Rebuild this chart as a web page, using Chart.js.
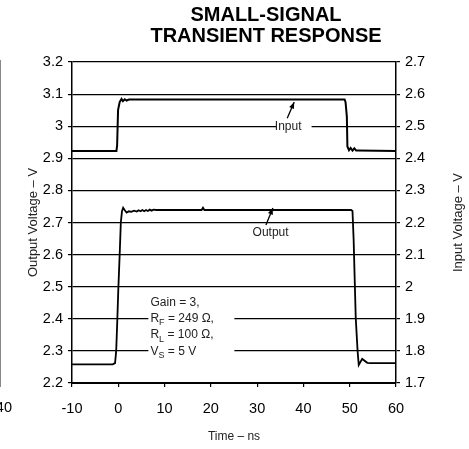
<!DOCTYPE html>
<html>
<head>
<meta charset="utf-8">
<script src="https://cdn.jsdelivr.net/npm/chart.js@4/dist/chart.umd.min.js"></script>
<style>
  html, body { margin: 0; padding: 0; background: #fff; }
</style>
</head>
<body>
<canvas id="transientChart" width="469" height="449"></canvas>
<script>
const FONT = '"Liberation Sans", Arial, sans-serif';

// axis ticks
const timeTicks = [-10, 0, 10, 20, 30, 40, 50, 60];
const outputTicks = [2.2, 2.3, 2.4, 2.5, 2.6, 2.7, 2.8, 2.9, 3, 3.1, 3.2];
const inputTicks = [1.7, 1.8, 1.9, 2, 2.1, 2.2, 2.3, 2.4, 2.5, 2.6, 2.7];

// input trace (right axis), ns / V
const inputTime = [-10, -0.4, -0.25, -0.05, 0.3, 0.7, 1.0, 1.4, 1.8, 2.3, 48.9, 49.1, 49.38, 49.5, 49.85, 50.2, 50.6, 51.0, 51.4, 51.8, 60];
const inputVolt = [2.423, 2.423, 2.44, 2.55, 2.575, 2.585, 2.578, 2.584, 2.58, 2.583, 2.583, 2.575, 2.53, 2.437, 2.425, 2.432, 2.424, 2.431, 2.424, 2.424, 2.423];

// output trace (left axis), ns / V
const outputTime = [-10, -1.2, -0.7, -0.45, -0.2, 0.0, 0.3, 0.55, 0.8, 1.05, 1.4, 1.8, 2.3, 2.8, 3.4, 4.0, 4.4, 4.8, 5.2, 5.6, 6.0, 6.4, 6.8, 7.2, 7.6, 8.2, 18.0, 18.3, 18.6, 50.3, 50.6, 50.85, 51.3, 51.7, 51.95, 52.7, 53.8, 54.6, 60];
const outputVolt = [2.258, 2.258, 2.262, 2.3, 2.4, 2.49, 2.6, 2.7, 2.735, 2.746, 2.738, 2.731, 2.735, 2.733, 2.737, 2.734, 2.738, 2.735, 2.739, 2.735, 2.739, 2.736, 2.74, 2.737, 2.74, 2.739, 2.739, 2.746, 2.739, 2.739, 2.736, 2.645, 2.403, 2.3, 2.256, 2.275, 2.263, 2.262, 2.262];

function toPoints(xs, ys) {
  return xs.map((t, i) => ({ x: t, y: ys[i] }));
}

function arrow(ctx, x0, y0, x1, y1) {
  ctx.beginPath();
  ctx.moveTo(x0, y0);
  ctx.lineTo(x1, y1);
  ctx.stroke();
  const a = Math.atan2(y1 - y0, x1 - x0);
  ctx.beginPath();
  ctx.moveTo(x1, y1);
  ctx.lineTo(x1 - 7 * Math.cos(a - 0.38), y1 - 7 * Math.sin(a - 0.38));
  ctx.lineTo(x1 - 7 * Math.cos(a + 0.38), y1 - 7 * Math.sin(a + 0.38));
  ctx.closePath();
  ctx.fill();
}

function subText(ctx, x, y, main, sub, rest) {
  ctx.font = "12px " + FONT;
  ctx.fillText(main, x, y);
  x += ctx.measureText(main).width;
  if (sub) {
    ctx.font = "9px " + FONT;
    ctx.fillText(sub, x, y + 4);
    x += ctx.measureText(sub).width;
    ctx.font = "12px " + FONT;
  }
  ctx.fillText(rest, x, y);
}

const notes = {
  id: "notes",
  beforeDatasetsDraw(chart) {
    const { ctx } = chart;
    const sx = chart.scales.x, sy = chart.scales.y;
    ctx.save();
    ctx.fillStyle = "#fff";
    // white boxes breaking the gridlines behind the labels
    ctx.fillRect(sx.getPixelForValue(34.2), sy.getPixelForValue(3.0) - 7, 35, 14);
    ctx.fillRect(sx.getPixelForValue(6.5), sy.getPixelForValue(2.485), 86, 68);
    ctx.restore();
  },
  afterDatasetsDraw(chart) {
    const { ctx } = chart;
    const sx = chart.scales.x, sy = chart.scales.y;
    ctx.save();
    ctx.fillStyle = "#000";
    ctx.strokeStyle = "#000";
    ctx.lineWidth = 1.3;

    // title
    ctx.font = "bold 20px " + FONT;
    ctx.textAlign = "center";
    ctx.textBaseline = "middle";
    ctx.fillText("SMALL-SIGNAL", 266, 15);
    ctx.fillText("TRANSIENT RESPONSE", 266, 36);

    // trace labels
    ctx.font = "12px " + FONT;
    ctx.fillStyle = "#222";
    ctx.fillText("Input", sx.getPixelForValue(36.7), sy.getPixelForValue(3.0));
    ctx.fillText("Output", sx.getPixelForValue(32.9), sy.getPixelForValue(2.667));
    ctx.fillStyle = "#000";
    arrow(ctx, sx.getPixelForValue(36.5), sy.getPixelForValue(3.025), sx.getPixelForValue(38.0), sy.getPixelForValue(3.075));
    arrow(ctx, sx.getPixelForValue(31.9), sy.getPixelForValue(2.692), sx.getPixelForValue(33.4), sy.getPixelForValue(2.745));

    // test conditions
    ctx.fillStyle = "#222";
    ctx.textAlign = "left";
    const gx = sx.getPixelForValue(6.95);
    subText(ctx, gx, sy.getPixelForValue(2.45), "Gain = 3,", "", "");
    subText(ctx, gx, sy.getPixelForValue(2.4), "R", "F", " = 249 \u03A9,");
    subText(ctx, gx, sy.getPixelForValue(2.349), "R", "L", " = 100 \u03A9,");
    subText(ctx, gx, sy.getPixelForValue(2.298), "V", "S", " = 5 V");

    // right axis title reads bottom to top
    ctx.font = "13px " + FONT;
    ctx.textAlign = "center";
    ctx.translate(458, (chart.chartArea.top + chart.chartArea.bottom) / 2);
    ctx.rotate(-Math.PI / 2);
    ctx.fillText("Input Voltage \u2013 V", 0, 0);
    ctx.restore();

    // edge of the neighbouring plot
    ctx.save();
    ctx.strokeStyle = "#888";
    ctx.lineWidth = 1;
    ctx.beginPath();
    ctx.moveTo(0.5, 60);
    ctx.lineTo(0.5, 387);
    ctx.stroke();
    ctx.font = "14.5px " + FONT;
    ctx.fillStyle = "#000";
    ctx.textAlign = "right";
    ctx.textBaseline = "middle";
    ctx.fillText("40", 12, 408);
    ctx.restore();
  },
};

Chart.defaults.font.family = FONT;
Chart.defaults.color = "#000";

new Chart(document.getElementById("transientChart"), {
  type: "line",
  data: {
    datasets: [
      {
        label: "Input",
        data: toPoints(inputTime, inputVolt),
        yAxisID: "yIn",
        borderColor: "#000",
        borderWidth: 2,
        pointRadius: 0,
        tension: 0,
      },
      {
        label: "Output",
        data: toPoints(outputTime, outputVolt),
        yAxisID: "y",
        borderColor: "#000",
        borderWidth: 1.8,
        pointRadius: 0,
        tension: 0,
      },
    ],
  },
  options: {
    responsive: false,
    animation: false,
    layout: { padding: { top: 62, right: 0, bottom: 0, left: 0 } },
    plugins: {
      legend: { display: false },
      tooltip: { enabled: false },
    },
    scales: {
      x: {
        type: "linear",
        min: timeTicks[0],
        max: timeTicks[timeTicks.length - 1],
        afterBuildTicks: (s) => { s.ticks = timeTicks.map((v) => ({ value: v })); },
        afterFit: (s) => { s.height = 66; },
        ticks: { font: { size: 14.5 }, padding: 13, color: "#000" },
        grid: { drawOnChartArea: false, tickLength: 4, color: "#000", lineWidth: 1.2 },
        border: { color: "#000", width: 2 },
        title: { display: true, text: "Time \u2013 ns", font: { size: 12 }, color: "#222", padding: { top: 0, bottom: 5 } },
      },
      y: {
        position: "left",
        min: outputTicks[0],
        max: outputTicks[outputTicks.length - 1],
        afterBuildTicks: (s) => { s.ticks = outputTicks.map((v) => ({ value: v })); },
        afterFit: (s) => { s.width = 72; },
        ticks: { font: { size: 14.5 }, padding: 5, color: "#000", callback: (v) => String(v) },
        grid: { color: "#000", lineWidth: 1.2, tickLength: 4 },
        border: { color: "#000", width: 1.5 },
        title: { display: true, text: "Output Voltage \u2013 V", font: { size: 13 }, color: "#222", padding: { top: 26, bottom: 0 } },
      },
      yIn: {
        position: "right",
        min: inputTicks[0],
        max: inputTicks[inputTicks.length - 1],
        afterBuildTicks: (s) => { s.ticks = inputTicks.map((v) => ({ value: v })); },
        afterFit: (s) => { s.width = 73; },
        ticks: { font: { size: 14.5 }, padding: 5, color: "#000", callback: (v) => String(v) },
        grid: { drawOnChartArea: false, color: "#000", lineWidth: 1.2, tickLength: 4 },
        border: { color: "#000", width: 1.5 },
      },
    },
  },
  plugins: [notes],
});
</script>
</body>
</html>
